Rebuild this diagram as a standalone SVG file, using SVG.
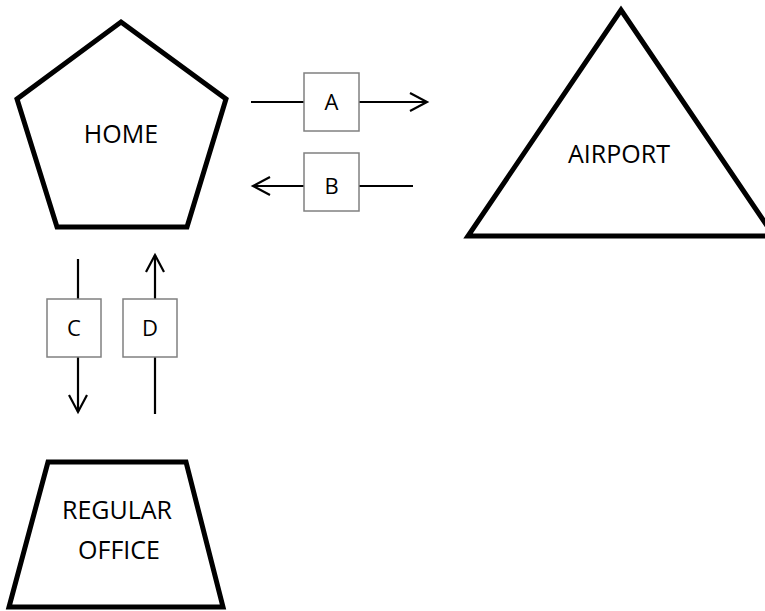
<svg xmlns="http://www.w3.org/2000/svg" width="765" height="611" viewBox="0 0 765 611">
<style>
.shape{fill:#fff;stroke:#000;stroke-width:5;stroke-linejoin:miter}
.lbl{fill:#fff;stroke:#808080;stroke-width:1.5}
.ln{fill:none;stroke:#000;stroke-width:2.2}
.hd{fill:none;stroke:#000;stroke-width:2.2;stroke-linejoin:miter}
text{font-family:"Open Sans","Liberation Sans",sans-serif;fill:#000;text-anchor:middle}
.big{font-size:25px}
.sm{font-size:22px}
</style>
<rect width="765" height="611" fill="#fff"/>
<g id="home">
<polygon class="shape" points="121,22 226,99 187,227 57,227 17,99"/>
<text class="big" x="121" y="143">HOME</text>
</g>
<g id="airport">
<polygon class="shape" points="621,10 774,236 468,236"/>
<text class="big" x="619" y="163">AIRPORT</text>
</g>
<g id="office">
<polygon class="shape" points="48,462 186,462 223,607 9,607"/>
<text class="big" x="117" y="519">REGULAR</text>
<text class="big" x="119" y="559">OFFICE</text>
</g>
<g id="connectors">
<line class="ln" x1="251" y1="102" x2="304" y2="102"/>
<line class="ln" x1="359" y1="102" x2="427" y2="102"/>
<polyline class="hd" points="410,93 427,102 410,111"/>
<line class="ln" x1="253" y1="186" x2="304" y2="186"/>
<line class="ln" x1="359" y1="186" x2="413" y2="186"/>
<polyline class="hd" points="270,177 253,186 270,195"/>
<line class="ln" x1="78" y1="259" x2="78" y2="299"/>
<line class="ln" x1="78" y1="357" x2="78" y2="412"/>
<polyline class="hd" points="69,395 78,412 87,395"/>
<line class="ln" x1="155" y1="255" x2="155" y2="299"/>
<line class="ln" x1="155" y1="357" x2="155" y2="414"/>
<polyline class="hd" points="146,272 155,255 164,272"/>
</g>
<g id="label-A">
<rect class="lbl" x="304" y="73" width="55" height="58"/>
<text class="sm" x="331.5" y="110">A</text>
</g>
<g id="label-B">
<rect class="lbl" x="304" y="153" width="55" height="58"/>
<text class="sm" x="331.5" y="194">B</text>
</g>
<g id="label-C">
<rect class="lbl" x="47" y="299" width="54" height="58"/>
<text class="sm" x="74" y="336">C</text>
</g>
<g id="label-D">
<rect class="lbl" x="123" y="299" width="54" height="58"/>
<text class="sm" x="150" y="336">D</text>
</g>
</svg>
